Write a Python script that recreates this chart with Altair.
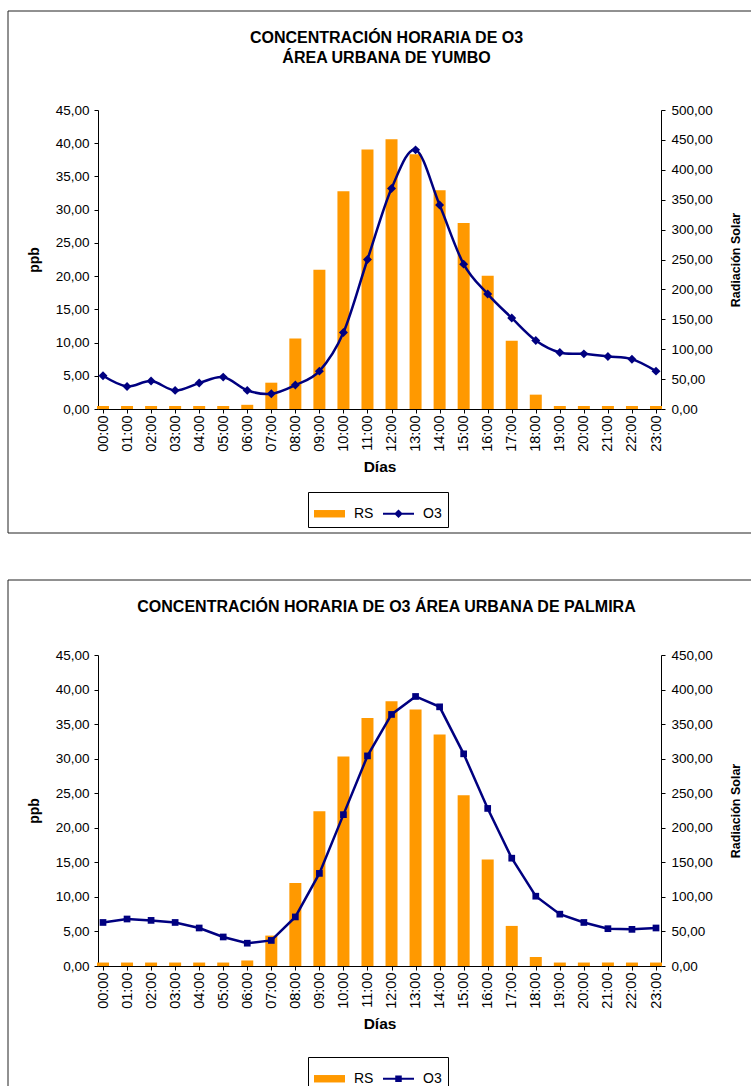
import json

import altair as alt
import pandas as pd

FONT = "Liberation Sans"
ORANGE = "#FF9900"
NAVY = "#000080"
INK = "#000000"
FRAME = "#222222"

# Hour-of-day category labels
HORAS = ["00:00", "01:00", "02:00", "03:00", "04:00", "05:00", "06:00", "07:00",
         "08:00", "09:00", "10:00", "11:00", "12:00", "13:00", "14:00", "15:00",
         "16:00", "17:00", "18:00", "19:00", "20:00", "21:00", "22:00", "23:00"]

# Yumbo: hourly ozone (ppb) and solar radiation
YUMBO_O3 = [5.0, 3.4, 4.2, 2.8, 3.9, 4.8, 2.8, 2.3, 3.6, 5.7, 11.5, 22.5,
            33.2, 39.0, 30.7, 21.8, 17.3, 13.7, 10.3, 8.5, 8.3, 7.9, 7.5, 5.7]
YUMBO_RS = [5, 5, 5, 5, 5, 5, 7, 44, 118, 233, 364, 434,
            451, 426, 366, 311, 223, 114, 24, 5, 5, 5, 5, 5]

# Palmira: hourly ozone (ppb) and solar radiation
PALMIRA_O3 = [6.3, 6.8, 6.6, 6.3, 5.5, 4.2, 3.3, 3.7, 7.1, 13.4, 21.9, 30.4,
              36.4, 39.0, 37.5, 30.7, 22.8, 15.6, 10.1, 7.5, 6.3, 5.4, 5.3, 5.5]
PALMIRA_RS = [5, 5, 5, 5, 5, 5, 8, 44, 120, 224, 303, 359,
              383, 371, 335, 247, 154, 58, 13, 5, 5, 5, 5, 5]

O3_TICKS = [0, 5, 10, 15, 20, 25, 30, 35, 40, 45]
RS_TICKS_YUMBO = [0, 50, 100, 150, 200, 250, 300, 350, 400, 450, 500]
RS_TICKS_PALMIRA = [0, 50, 100, 150, 200, 250, 300, 350, 400, 450]

SERIES = ["RS", "O3"]

COMMA_LABEL = "replace(format(datum.value, '.2f'), '.', ',')"
HOUR_LABEL = json.dumps(HORAS) + "[datum.value]"

# Legend keys: a flat bar for RS, a line with its marker for O3
KEY_RS = "M-1,-0.24H1V0.24H-1Z"
KEY_O3_DIAMOND = ("M-1,-0.07H-0.22V0.07H-1Z M0.22,-0.07H1V0.07H0.22Z "
                  "M0,-0.28L0.28,0L0,0.28L-0.28,0Z")
KEY_O3_SQUARE = ("M-1,-0.07H-0.2V0.07H-1Z M0.2,-0.07H1V0.07H0.2Z "
                 "M-0.21,-0.21H0.21V0.21H-0.21Z")

PLOT_W = 563


def panel(o3, rs, titulo, title_offset, rs_ticks, plot_h, marker, marker_size,
          o3_key, interp, frame_top, frame_bottom, closed_bottom, legend_y):
    df = pd.DataFrame({"hora": list(range(24)), "o3": o3, "rs": rs})

    x = alt.X(
        "hora:Q",
        scale=alt.Scale(domain=[0, 23], nice=False, zero=False),
        axis=alt.Axis(
            values=list(range(24)), labelExpr=HOUR_LABEL, labelAngle=270,
            labelFontSize=14.5, labelPadding=2, tickSize=4,
            title="Días", titleFontSize=15.5, titleFontWeight="bold", titlePadding=8,
        ),
    )

    bars = alt.Chart(df).mark_bar(color=ORANGE, size=12).encode(
        x=x,
        y=alt.Y(
            "rs:Q",
            scale=alt.Scale(domain=[0, rs_ticks[-1]], nice=False),
            axis=alt.Axis(
                orient="right", values=rs_ticks, labelExpr=COMMA_LABEL,
                labelFontSize=13.5, labelPadding=6, tickSize=4,
                title="Radiación Solar", titleAngle=270, titleBaseline="top",
                titleFontSize=12.5, titleFontWeight="bold", titlePadding=17,
            ),
        ),
    )

    line = alt.Chart(df).mark_line(
        color=NAVY, strokeWidth=2.5, interpolate=interp,
        point=alt.OverlayMarkDef(shape=marker, size=marker_size, filled=True,
                                 color=NAVY, opacity=1),
    ).encode(
        x=x,
        y=alt.Y(
            "o3:Q",
            scale=alt.Scale(domain=[0, 45], nice=False),
            axis=alt.Axis(
                orient="left", values=O3_TICKS, labelExpr=COMMA_LABEL,
                labelFontSize=13.5, labelPadding=5, tickSize=4,
                title="ppb", titleFontSize=14, titleFontWeight="bold", titlePadding=14,
            ),
        ),
    )

    leg = alt.Legend(
        title=None, orient="none", legendX=210, legendY=legend_y,
        direction="horizontal", strokeColor=INK, fillColor="white", padding=6,
        cornerRadius=0, symbolSize=961, symbolOpacity=1, symbolStrokeWidth=0,
        labelFont=FONT, labelFontSize=14, labelColor=INK, labelOffset=9,
        columnPadding=9,
    )
    leyenda = alt.Chart(pd.DataFrame({"serie": SERIES})).mark_point(
        filled=True, opacity=0
    ).encode(
        x=alt.value(0), y=alt.value(0),
        color=alt.Color("serie:N", scale=alt.Scale(domain=SERIES, range=[ORANGE, NAVY]), legend=leg),
        shape=alt.Shape("serie:N", scale=alt.Scale(domain=SERIES, range=[KEY_RS, o3_key]), legend=leg),
    )

    # chart-area border
    one = alt.Chart(pd.DataFrame({"k": [0]}))
    borde = [
        one.mark_rule(color=FRAME, strokeWidth=1).encode(
            x=alt.value(-90), x2=alt.value(653), y=alt.value(frame_top)),
        one.mark_rule(color=FRAME, strokeWidth=1).encode(
            x=alt.value(-90), y=alt.value(frame_top), y2=alt.value(frame_bottom)),
    ]
    if closed_bottom:
        borde.append(one.mark_rule(color=FRAME, strokeWidth=1).encode(
            x=alt.value(-90), x2=alt.value(653), y=alt.value(frame_bottom)))

    return alt.layer(*borde, bars, line, leyenda).resolve_scale(y="independent").properties(
        width=PLOT_W, height=plot_h,
        title=alt.TitleParams(text=titulo, fontSize=16, fontWeight="bold", font=FONT,
                              color=INK, anchor="middle", offset=title_offset,
                              lineHeight=20, dx=7),
    )


yumbo = panel(YUMBO_O3, YUMBO_RS,
              ["CONCENTRACIÓN HORARIA DE O3", "ÁREA URBANA DE YUMBO"], -55,
              RS_TICKS_YUMBO, 299, "diamond", 80, KEY_O3_DIAMOND, "cardinal",
              -99, 423, True, 382)

palmira = panel(PALMIRA_O3, PALMIRA_RS,
                "CONCENTRACIÓN HORARIA DE O3 ÁREA URBANA DE PALMIRA", -35,
                RS_TICKS_PALMIRA, 311, "square", 45, KEY_O3_SQUARE, "linear",
                -75, 432, False, 402)

chart = alt.vconcat(yumbo, palmira, spacing=45).resolve_scale(
    color="independent", shape="independent"
).properties(
    padding={"left": 7, "top": 10, "right": 0, "bottom": 0},
    background="white",
).configure(font=FONT).configure_view(stroke=None).configure_axis(
    grid=False, domainColor=INK, tickColor=INK, labelColor=INK, titleColor=INK,
    labelFont=FONT, titleFont=FONT, domainWidth=1, tickWidth=1,
)

chart.save("out.html", embed_options={"renderer": "svg", "actions": False})
